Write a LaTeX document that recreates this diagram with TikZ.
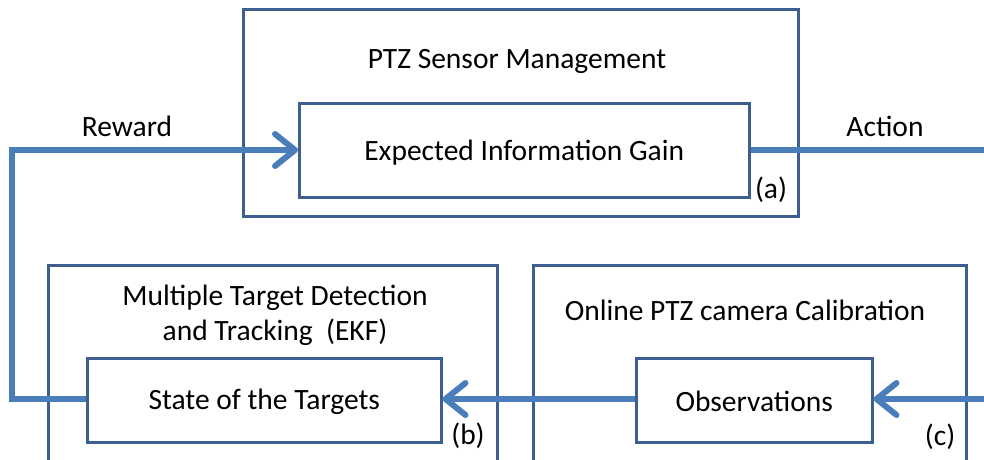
\documentclass[tikz,border=0pt]{standalone}
\usepackage{fontspec}
\setmainfont{Carlito}
\usetikzlibrary{arrows.meta}
\definecolor{boxline}{HTML}{3D5F8F}
\definecolor{flow}{HTML}{4A7EBB}
\begin{document}
\begin{tikzpicture}[x=1pt,y=-1pt,
  frame/.style={draw=boxline,line width=2.5pt,rectangle,anchor=north west,inner sep=0pt},
  lbl/.style={font=\fontsize{29.5}{35}\selectfont,align=center,inner sep=0pt},
  tag/.style={font=\fontsize{29.5}{35}\selectfont,inner sep=0pt},
  flowline/.style={draw=flow,line width=6pt},
  tip/.style={-{Straight Barb[length=20pt,width=32pt,line cap=round,line join=round]}}
]
\useasboundingbox (0,0) rectangle (984,459);

% outer component frames
\node[frame,minimum width=555pt,minimum height=207pt] (psm) at (242,8) {};
\node[frame,minimum width=449pt,minimum height=220pt] (mtd) at (47,264) {};
\node[frame,minimum width=433pt,minimum height=220pt] (cal) at (532,264) {};

% inner blocks
\node[frame,minimum width=450pt,minimum height=94pt] (eig) at (298,102) {};
\node[frame,minimum width=354pt,minimum height=84pt] (sot) at (86,357) {};
\node[frame,minimum width=236pt,minimum height=84pt] (obs) at (635,357) {};

\node[lbl,yshift=-2pt] (eigt) at (eig.center) {Expected Information Gain};
\node[lbl,yshift=-2pt] (sott) at (sot.center) {State of the Targets};
\node[lbl,yshift=-1pt] (obst) at (obs.center) {Observations};

% frame titles
\node[lbl] (psmt) at (517,61) {PTZ Sensor Management};
\node[lbl] (mtdt) at (275,315) {Multiple Target Detection\\and Tracking~~(EKF)};
\node[lbl] (calt) at (745,310) {Online PTZ camera Calibration};

% tags
\node[tag] (ta) at (771,190) {(a)};
\node[tag] (tb) at (468,436) {(b)};
\node[tag] (tc) at (940,437) {(c)};

% free ends at the picture border
\coordinate (corner) at (12,150);
\coordinate (actend) at (984,150);
\coordinate (obsin) at (984,399);

% connectors
\draw[flowline,tip] (sot.west |- 0,399) -| (corner) -- (eig.west |- corner);
\draw[flowline] (eig.east |- actend) -- (actend);
\draw[flowline,tip] (obsin) -- (obs.east |- obsin);
\draw[flowline,tip] (obs.west |- obsin) -- (sot.east |- obsin);

\node[tag] (rw) at (127,126) {Reward};
\node[tag] (ac) at (885,126) {Action};
\end{tikzpicture}
\end{document}
